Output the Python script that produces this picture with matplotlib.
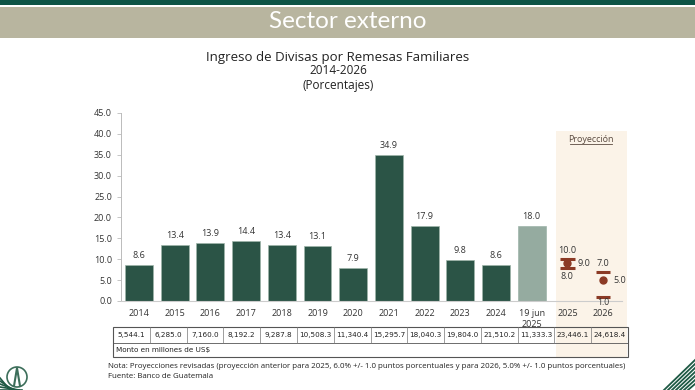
import numpy as np
import matplotlib.pyplot as plt
from matplotlib.patches import Rectangle, Circle

# Data
categories = ["2014", "2015", "2016", "2017", "2018", "2019", "2020",
              "2021", "2022", "2023", "2024", "19 jun\n2025", "2025", "2026"]
growth = [8.6, 13.4, 13.9, 14.4, 13.4, 13.1, 7.9, 34.9, 17.9, 9.8, 8.6, 18.0]
proj_center = [9.0, 5.0]
proj_low = [8.0, 1.0]
proj_high = [10.0, 7.0]
amounts = ["5,544.1", "6,285.0", "7,160.0", "8,192.2", "9,287.8", "10,508.3",
           "11,340.4", "15,295.7", "18,040.3", "19,804.0", "21,510.2",
           "11,333.3", "23,446.1", "24,618.4"]

dark_green = "#2b5446"
light_bar = "#95aba0"
proj_col = "#8b3a25"
txt = "#333333"

plt.rcParams["font.family"] = ["Open Sans", "DejaVu Sans"]

fig = plt.figure(figsize=(6.95, 3.9), dpi=100)

# background / decoration layer in pixel coords
bg = fig.add_axes([0, 0, 1, 1], zorder=0)
bg.set_xlim(0, 695)
bg.set_ylim(390, 0)
bg.axis("off")
bg.add_patch(Rectangle((0, 0), 695, 4.5, color="#0d5446", lw=0))
bg.add_patch(Rectangle((0, 7), 695, 31, color="#b8b59f", lw=0))
bg.text(348, 22, "Sector externo", color="white", fontsize=17.5,
        ha="center", va="center", family=["Lato", "DejaVu Sans"])

bg.text(338, 57, "Ingreso de Divisas por Remesas Familiares", fontsize=9.5,
        ha="center", va="center", color="#222222")
bg.text(338, 71, "2014-2026", fontsize=8.5, ha="center", va="center", color="#222222")
bg.text(338, 85, "(Porcentajes)", fontsize=8.5, ha="center", va="center", color="#222222")

# projection shading
bg.add_patch(Rectangle((556, 131), 71, 226, color="#fbf3e8", lw=0))
bg.text(591, 139, "Proyección", fontsize=6.5, ha="center", va="center",
        color="#5a4a40")
bg.plot([570, 612], [144, 144], color="#5a4a40", lw=0.6)

# table
tl, tr = 113, 628
t_top, t_mid, t_bot = 327, 343, 357
ncol = len(amounts)
cw = (tr - tl) / ncol
bg.add_patch(Rectangle((tl, t_top), tr - tl, t_bot - t_top, fill=False,
                       ec="#555555", lw=0.8))
bg.plot([tl, tr], [t_mid, t_mid], color="#555555", lw=0.6)
for i in range(1, ncol):
    bg.plot([tl + i * cw, tl + i * cw], [t_top, t_mid], color="#777777", lw=0.5)
for i, a in enumerate(amounts):
    bg.text(tl + (i + 0.5) * cw, (t_top + t_mid) / 2, a, fontsize=5.2,
            ha="center", va="center", color="#222222",
            family=["Liberation Sans Narrow", "DejaVu Sans"])
bg.text(tl + 3, (t_mid + t_bot) / 2, "Monto en millones de US$", fontsize=5.2,
        ha="left", va="center", color="#222222",
        family=["Liberation Sans Narrow", "DejaVu Sans"])

bg.text(108, 366, "Nota: Proyecciones revisadas (proyección anterior para 2025, 6.0% +/- 1.0 puntos "
        "porcentuales y para 2026, 5.0% +/- 1.0 puntos porcentuales)",
        fontsize=5.7, ha="left", va="center", color="#222222")
bg.text(108, 377, "Fuente: Banco de Guatemala", fontsize=5.7, ha="left",
        va="center", color="#222222")

# corner decorations
bg.add_patch(Circle((17, 377), 10, fill=False, ec="#3c6e5a", lw=1.2))
bg.plot([14, 17, 20], [386, 368, 386], color="#3c6e5a", lw=1.5)
for k in range(5):
    bg.plot([0, 10 + 3 * k], [378 + 3 * k, 390], color="#1f5a45", lw=1.2)
for k in range(7):
    bg.plot([664 + 4 * k, 695], [390, 360 + 4 * k], color="#1f5a45", lw=1.3)

# main chart axes
px_step = 35.7
x0_px, ax_l, ax_r = 139, 121, 622
y0_px, ytop_px = 301, 113
ax = fig.add_axes([ax_l / 695, (390 - y0_px) / 390,
                   (ax_r - ax_l) / 695, (y0_px - ytop_px) / 390], zorder=1)
ax.set_facecolor("none")
x = np.arange(len(categories))
ax.set_xlim(-(x0_px - ax_l) / px_step, (ax_r - x0_px) / px_step)
ax.set_ylim(0, 45)

colors = [dark_green] * (len(growth) - 1) + [light_bar]
bars = ax.bar(x[:len(growth)], growth, width=0.78, color=colors,
              edgecolor="#9fb5aa", lw=0.5, zorder=2)
for xi, v in zip(x, growth):
    ax.text(xi, v + 1.2, f"{v:.1f}", ha="center", va="bottom", fontsize=6.5, color=txt)

# projections
px_proj = x[len(growth):]
for xi, c, lo, hi in zip(px_proj, proj_center, proj_low, proj_high):
    ax.plot([xi - 0.2, xi + 0.2], [hi, hi], color=proj_col, lw=2.2, solid_capstyle="butt", zorder=3)
    ax.plot([xi - 0.2, xi + 0.2], [lo, lo], color=proj_col, lw=2.2, solid_capstyle="butt", zorder=3)
    ax.plot(xi, c, "o", color=proj_col, ms=5, zorder=4)

ax.text(px_proj[0], proj_high[0] + 0.9, "10.0", ha="center", va="bottom", fontsize=6.5, color=txt)
ax.text(px_proj[0] + 0.28, proj_center[0], "9.0", ha="left", va="center", fontsize=6.5, color=txt)
ax.text(px_proj[0], proj_low[0] - 1.0, "8.0", ha="center", va="top", fontsize=6.5, color=txt)
ax.text(px_proj[1], proj_high[1] + 0.9, "7.0", ha="center", va="bottom", fontsize=6.5, color=txt)
ax.text(px_proj[1] + 0.3, proj_center[1], "5.0", ha="left", va="center", fontsize=6.5, color=txt)
ax.text(px_proj[1], -0.4, "1.0", ha="center", va="center", fontsize=6.2, color=txt)

ax.set_yticks(np.arange(0, 46, 5))
ax.set_yticklabels([f"{t:.1f}" for t in np.arange(0, 46, 5)])
ax.set_xticks(x)
ax.set_xticklabels(categories)
ax.tick_params(axis="y", labelsize=6.5, colors="#bbbbbb", labelcolor=txt, length=3, width=0.6)
ax.tick_params(axis="x", labelsize=6.5, length=0, pad=6, labelcolor=txt)
for s in ["top", "right"]:
    ax.spines[s].set_visible(False)
ax.spines["left"].set_color("#bbbbbb")
ax.spines["bottom"].set_color("#cccccc")
ax.spines["left"].set_linewidth(0.7)
ax.spines["bottom"].set_linewidth(0.8)

fig.savefig("out.png", dpi=100)
